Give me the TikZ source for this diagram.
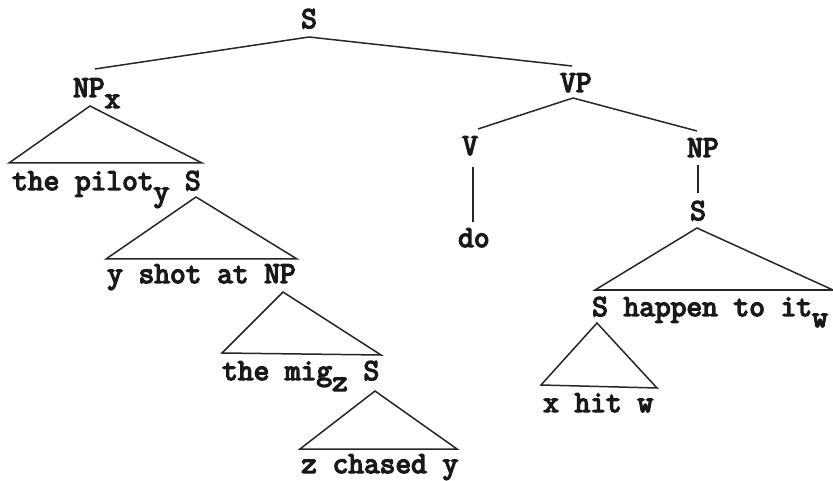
\documentclass[tikz,border=0pt]{standalone}
\usepackage{fontspec}
\newfontfamily\tw{Latin Modern Mono}[FakeBold=4.5]
\newcommand{\lowsub}[1]{\raisebox{-11pt}{#1}}
\begin{document}
\begin{tikzpicture}[x=1pt,y=-1pt,
  lbl/.style={anchor=base west,inner sep=0pt,font=\tw\fontsize{30.5}{31}\selectfont,text=black!90},
  edge/.style={draw=black!85,line width=1.5pt},
  tri/.style={draw=black!85,line width=1.5pt,line join=miter}]
\useasboundingbox (0,0) rectangle (833,481);
% labels
\node[lbl] (S0) at (301,28) {S};
\node[lbl] (NPx) at (73,97) {NP\lowsub{x}};
\node[lbl] (pilot) at (12,190) {the pilot\lowsub{y} S};
\node[lbl] (yshot) at (107,283) {y shot at NP};
\node[lbl] (mig) at (222,380) {the mig\lowsub{z} S};
\node[lbl] (zchased) at (301,473) {z chased y};
\node[lbl] (VP) at (560,92) {VP};
\node[lbl] (V) at (462,155) {V};
\node[lbl] (NPr) at (687,157) {NP};
\node[lbl] (do) at (458,247) {do};
\node[lbl] (Sr) at (690,220) {S};
\node[lbl] (happen) at (592,316) {S happen to it\lowsub{w}};
\node[lbl] (xhit) at (543,412) {x hit w};
% connector ends
\coordinate (S0b) at (309,37);
\coordinate (NPxt) at (95,69);
\coordinate (VPt) at (572,66);
\coordinate (VPb) at (573,98);
\coordinate (Vt) at (478,129);
\coordinate (NPrt) at (697,131);
\coordinate (Vb) at (473,167);
\coordinate (dot) at (473,222);
\coordinate (NPrb) at (698,165);
\coordinate (Srt) at (698,193);
% triangles
\coordinate (t1a) at (90,106);  \coordinate (t1l) at (9,163);   \coordinate (t1r) at (202,163);
\coordinate (t2a) at (196,197); \coordinate (t2l) at (106,259); \coordinate (t2r) at (297,259);
\coordinate (t3a) at (283,292); \coordinate (t3l) at (222,353); \coordinate (t3r) at (381,355);
\coordinate (t4a) at (375,391); \coordinate (t4l) at (300,449); \coordinate (t4r) at (457,449);
\coordinate (t5a) at (697,228); \coordinate (t5l) at (595,290); \coordinate (t5r) at (833,290);
\coordinate (t6a) at (597,323); \coordinate (t6l) at (541,385); \coordinate (t6r) at (657,388);
% edges
\draw[edge] (S0b) -- (NPxt);
\draw[edge] (S0b) -- (VPt);
\draw[edge] (VPb) -- (Vt);
\draw[edge] (VPb) -- (NPrt);
\draw[edge] (Vb) -- (dot);
\draw[edge] (NPrb) -- (Srt);
\draw[tri] (t1a) -- (t1l) -- (t1r) -- cycle;
\draw[tri] (t2a) -- (t2l) -- (t2r) -- cycle;
\draw[tri] (t3a) -- (t3l) -- (t3r) -- cycle;
\draw[tri] (t4a) -- (t4l) -- (t4r) -- cycle;
\draw[tri] (t5a) -- (t5l) -- (t5r) -- cycle;
\draw[tri] (t6a) -- (t6l) -- (t6r) -- cycle;
\end{tikzpicture}
\end{document}
